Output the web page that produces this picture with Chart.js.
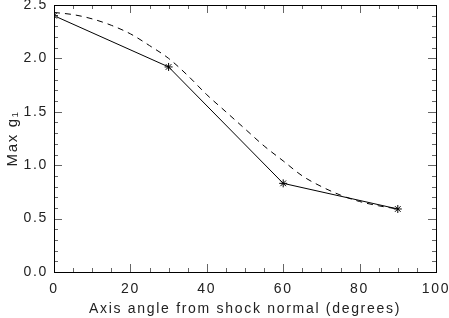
<!DOCTYPE html>
<html>
<head>
<meta charset="utf-8">
<script src="https://cdn.jsdelivr.net/npm/chart.js@4"></script>
<style>
  html, body { margin: 0; padding: 0; background: #fff; }
  #wrap { width: 449px; height: 318px; }
</style>
</head>
<body>
<div id="wrap"><canvas id="chart" width="449" height="318"></canvas></div>
<script>
// measured points (asterisks, solid line)
const Angles = [0, 30, 60, 90];
const Max_G1 = [2.40, 1.92, 0.83, 0.59];

// model curve (dashed)
const Model_Angles = [0, 5, 10, 15, 20, 25, 30, 35, 40, 45, 50, 55, 60, 65, 70, 75, 80, 85, 90];
const Model_G1 = [2.43, 2.41, 2.37, 2.31, 2.23, 2.12, 2.00, 1.84, 1.66, 1.50, 1.34, 1.18, 1.04, 0.90, 0.80, 0.72, 0.66, 0.62, 0.59];

const Font_Family = '"Liberation Sans", Arial, sans-serif';
const Text_Color = '#222';
const Letter_Spacing = '1.7px';

// wide IDL-like lettering
const Spaced_Text = {
    id: 'spacedText',
    beforeUpdate(chart) { chart.ctx.letterSpacing = Letter_Spacing; },
    beforeDraw(chart) { chart.ctx.letterSpacing = Letter_Spacing; }
};

// IDL-style ticks: drawn inward on all four sides
const Inner_Ticks = {
    id: 'innerTicks',
    afterDraw(chart) {
        const { ctx, chartArea: A, scales } = chart;
        ctx.save();
        ctx.strokeStyle = '#666';
        ctx.lineWidth = 1;
        const Line = (x1, y1, x2, y2) => {
            ctx.beginPath();
            ctx.moveTo(x1, y1);
            ctx.lineTo(x2, y2);
            ctx.stroke();
        };
        const X = scales.x, Y = scales.y;
        for (let v = X.min; v <= X.max + 1e-9; v += 5) {
            const Px = Math.round(X.getPixelForValue(v)) + 0.5;
            const Len = Math.abs(v % 20) < 1e-9 ? 8 : 4;
            Line(Px, A.bottom, Px, A.bottom - Len);
            Line(Px, A.top, Px, A.top + Len);
        }
        for (let v = Y.min; v <= Y.max + 1e-9; v += 0.1) {
            const Py = Math.round(Y.getPixelForValue(v)) + 0.5;
            const Len = Math.abs(Math.round(v * 10) % 5) === 0 ? 8 : 4;
            Line(A.left, Py, A.left + Len, Py);
            Line(A.right, Py, A.right - Len, Py);
        }
        ctx.strokeStyle = '#000';
        ctx.strokeRect(Math.round(A.left) + 0.5, Math.round(A.top) + 0.5,
            Math.round(A.right - A.left), Math.round(A.bottom - A.top));
        ctx.restore();
    }
};

new Chart(document.getElementById('chart').getContext('2d'), {
    type: 'line',
    data: {
        datasets: [
            {
                label: 'Measured',
                data: Angles.map((a, i) => ({ x: a, y: Max_G1[i] })),
                borderColor: '#000',
                borderWidth: 1,
                pointStyle: 'star',
                pointRadius: 4,
                pointBorderColor: '#000',
                pointBorderWidth: 1,
                tension: 0,
                fill: false
            },
            {
                label: 'Model',
                data: Model_Angles.map((a, i) => ({ x: a, y: Model_G1[i] })),
                borderColor: '#000',
                borderWidth: 1,
                borderDash: [6, 5],
                pointRadius: 0,
                cubicInterpolationMode: 'monotone',
                fill: false
            }
        ]
    },
    options: {
        responsive: false,
        animation: false,
        events: [],
        layout: { padding: { top: 2, right: 13, left: 0, bottom: 0 } },
        plugins: { legend: { display: false }, tooltip: { enabled: false } },
        scales: {
            x: {
                type: 'linear',
                min: 0,
                max: 100,
                grid: { display: false, drawTicks: false },
                border: { display: false },
                ticks: { stepSize: 20, padding: 9, color: Text_Color, font: { family: Font_Family, size: 14 }, maxRotation: 0 },
                title: { display: true, text: 'Axis angle from shock normal (degrees)', color: Text_Color, font: { family: Font_Family, size: 14 }, padding: { top: 2, bottom: 0 } },
                afterFit(scale) { scale.height = 46; scale.paddingLeft = 0; scale.paddingRight = 0; }
            },
            y: {
                min: 0,
                max: 2.5,
                grid: { display: false, drawTicks: false },
                border: { display: false },
                ticks: { stepSize: 0.5, padding: 6, color: Text_Color, font: { family: Font_Family, size: 14 }, callback: v => v.toFixed(1) },
                title: { display: true, text: 'Max g\u2081', color: Text_Color, font: { family: Font_Family, size: 15 }, padding: { top: 4, bottom: 0 } },
                afterFit(scale) { scale.width = 54; scale.paddingTop = 0; scale.paddingBottom = 0; }
            }
        }
    },
    plugins: [Spaced_Text, Inner_Ticks]
});
</script>
</body>
</html>
